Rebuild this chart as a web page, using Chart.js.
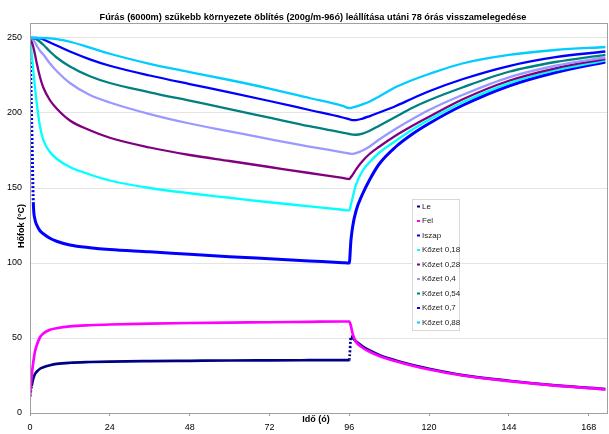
<!DOCTYPE html>
<html>
<head>
<meta charset="utf-8">
<script src="https://cdn.jsdelivr.net/npm/chart.js@4.4.1/dist/chart.umd.min.js"></script>
<style>
  body { margin: 0; background: #fff; }
  #wrap { width: 609px; height: 434px; }
</style>
</head>
<body>
<div id="wrap"><canvas id="chart" width="609" height="434"></canvas></div>
<script>
// Time (hours) and temperatures (°C)
let hours = [0, 0.5, 1, 1.5, 2, 3, 4, 6, 8, 12, 18, 24, 36, 48, 60, 72, 84, 94, 96,
  96.5, 97, 98, 100, 102, 105, 110, 115, 120, 130, 144, 158, 173];

let seriesNames = ['Le', 'Fel', 'Iszap', 'Kőzet 0,18', 'Kőzet 0,28', 'Kőzet 0,4', 'Kőzet 0,54', 'Kőzet 0,7', 'Kőzet 0,88'];
let seriesColors = ['#000080', '#ff00ff', '#0000ff', '#00ffff', '#800080', '#9999ff', '#008080', '#0000ff', '#00ccff'];

let le = [11, 18, 23, 26, 27.5, 29.5, 30.5, 31.8, 32.7, 33.5, 34, 34.3, 34.6, 34.8, 35, 35.1, 35.2, 35.3, 35.3,
  51, 50, 47.8, 44.5, 41.8, 38.7, 35, 32, 29.5, 25.3, 21.5, 18.4, 15.9];
let fel = [11, 25, 34, 41, 45, 50.5, 53, 55.5, 56.5, 57.7, 58.5, 59, 59.6, 60, 60.3, 60.5, 60.8, 61, 61,
  58, 53, 47.5, 43.5, 41, 38, 34.5, 31.5, 29, 25, 21.3, 18.3, 15.8];
let iszap = [250, 195, 140, 129, 125.5, 121.5, 119.5, 116.5, 114.5, 112, 110.2, 109, 107.5, 105.8, 104.2, 102.8, 101.4, 100.2, 100,
  115, 124, 134.5, 146, 155, 166, 177.5, 186, 193, 205, 218, 227, 234];
let kozet018 = [250, 240, 228, 217, 207, 191, 182, 174, 169.5, 164, 159, 155, 150, 146.5, 143.5, 140.5, 137.8, 135.5, 135,
  139, 143.5, 152, 161.5, 167, 173.5, 181.5, 189, 195.5, 207, 219.8, 228.5, 235];
let kozet028 = [250, 247.5, 244, 239, 233.5, 224, 217, 208.5, 203, 195, 188.5, 183.5, 177, 172, 168, 164, 160, 156.7, 156,
  157.3, 158.8, 162.3, 168, 172.5, 177.5, 185, 191.5, 197.5, 209, 221.5, 229.8, 236];
let kozet04 = [250, 249.5, 248.5, 247, 245, 241.5, 239, 233, 228, 220, 212, 207, 199.3, 193, 187.8, 182.6, 177.6, 173.8, 173,
  172.8, 172.8, 173.2, 175, 177.5, 182.3, 189.5, 196, 202, 212, 223.8, 231.5, 237];
let kozet054 = [250, 250, 249.8, 249.5, 249, 247.5, 245.5, 241, 237, 231, 224.5, 220, 213.8, 208.2, 202.6, 196.9, 191.2, 186.9, 186,
  185.8, 185.6, 185.5, 186.3, 188, 191.5, 197.5, 203.5, 208.5, 217, 227.5, 234, 238.8];
let kozet07 = [250, 250, 250, 250, 250, 249.8, 249, 247, 245, 241, 235.8, 231.5, 225, 219.3, 213.8, 208, 202, 197, 195.8,
  195.5, 195.3, 195.3, 196.3, 197.8, 200.3, 204.7, 209.7, 214.5, 222.5, 231.3, 237.2, 241];
let kozet088 = [250, 250, 250, 250, 250, 250, 250, 249.8, 249.2, 247.5, 243.6, 239.5, 232.8, 227.3, 222, 216.3, 210, 204.7, 203.3,
  203.4, 203.7, 204.3, 205.8, 207.5, 211, 217.3, 222, 226, 233, 238.7, 242, 244];

let seriesValues = [le, fel, iszap, kozet018, kozet028, kozet04, kozet054, kozet07, kozet088];
let lineWidths = [2.7, 2.7, 3, 2.3, 2.3, 2.3, 2.3, 2.3, 2.3];
// segments drawn dotted (steep jumps)
let dottedSegments = [[0, 18], [], [0, 1], [], [], [], [], [], []];

let xTicksStep = 24;
let yTicksStep = 50;

const FONT = 'Arial, "Liberation Sans", sans-serif';

function buildDatasets() {
  return seriesNames.map((name, i) => {
    let dots = dottedSegments[i];
    return {
      label: name,
      data: hours.map((h, k) => ({ x: h, y: seriesValues[i][k] })),
      borderColor: seriesColors[i],
      backgroundColor: seriesColors[i],
      borderWidth: lineWidths[i],
      pointRadius: 0,
      cubicInterpolationMode: 'monotone',
      order: seriesNames.length - i,
      segment: {
        borderDash: ctx => dots.includes(ctx.p0DataIndex) ? [2, 2] : undefined
      }
    };
  });
}

const decorations = {
  id: 'decorations',
  afterDraw(chart) {
    let ctx = chart.ctx;
    let area = chart.chartArea;
    ctx.save();

    // plot border
    ctx.strokeStyle = '#a0a0a0';
    ctx.lineWidth = 1;
    ctx.strokeRect(area.left + 0.5, area.top + 0.5, area.right - area.left, area.bottom - area.top);

    // title
    ctx.fillStyle = '#000';
    ctx.font = 'bold 9.2px ' + FONT;
    ctx.textAlign = 'center';
    ctx.textBaseline = 'middle';
    ctx.fillText('Fúrás (6000m) szűkebb környezete öblítés (200g/m-96ó) leállítása utáni 78 órás visszamelegedése', 313, 17);

    // axis titles
    ctx.font = 'bold 9px ' + FONT;
    ctx.fillText('Idő (ó)', 316, 420);
    ctx.save();
    ctx.translate(22, 226);
    ctx.rotate(-Math.PI / 2);
    ctx.fillText('Hőfok (°C)', 0, 0);
    ctx.restore();

    // legend box
    let lx = 412.5, ly = 199.5, lw = 47, lh = 131;
    ctx.fillStyle = '#fff';
    ctx.fillRect(lx, ly, lw, lh);
    ctx.strokeStyle = '#d8d8d8';
    ctx.strokeRect(lx, ly, lw, lh);
    ctx.font = '8px ' + FONT;
    ctx.textAlign = 'left';
    seriesNames.forEach((name, i) => {
      let y = 206.5 + i * 14.5;
      ctx.fillStyle = seriesColors[i];
      ctx.fillRect(417, y - 1, 3, 2);
      ctx.fillStyle = '#222';
      ctx.fillText(name, 422, y);
    });
    ctx.restore();
  }
};

new Chart(document.getElementById('chart'), {
  type: 'line',
  data: { datasets: buildDatasets() },
  plugins: [decorations],
  options: {
    responsive: false,
    devicePixelRatio: 1,
    animation: false,
    layout: { padding: { top: 23, right: 2, left: 0, bottom: 0 } },
    plugins: {
      legend: { display: false },
      tooltip: { enabled: false }
    },
    scales: {
      x: {
        type: 'linear',
        min: 0,
        max: 173.5,
        afterFit: scale => { scale.height = 21; },
        grid: { drawOnChartArea: false, tickLength: 3, color: '#999' },
        border: { color: '#999' },
        ticks: { stepSize: xTicksStep, includeBounds: false, padding: 6, maxRotation: 0, color: '#000', font: { family: FONT, size: 9 } }
      },
      y: {
        min: 0,
        max: 260,
        afterFit: scale => { scale.width = 30; },
        grid: { color: '#e4e4e4', tickLength: 0 },
        border: { color: '#999' },
        ticks: { stepSize: yTicksStep, includeBounds: false, padding: 8, color: '#000', font: { family: FONT, size: 9 } }
      }
    }
  }
});
</script>
</body>
</html>
